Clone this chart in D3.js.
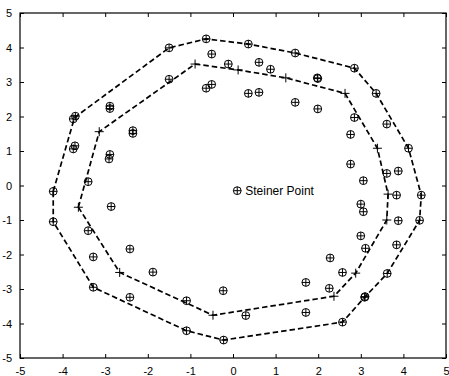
<!DOCTYPE html>
<html><head><meta charset="utf-8">
<script src="https://cdn.jsdelivr.net/npm/d3@7"></script>
<style>body{margin:0;background:#fff}svg{display:block}</style>
</head><body>
<svg id="c" width="449" height="376"></svg>
<script>
const ticksX = [-5,-4,-3,-2,-1,0,1,2,3,4,5];
const ticksY = [-5,-4,-3,-2,-1,0,1,2,3,4,5];

const outerHull = [[-4.22,-0.17],[-3.72,1.97],[-1.50,3.99],[-0.63,4.25],[0.36,4.10],[1.46,3.84],[2.85,3.40],[3.36,2.67],[4.12,1.08],[4.42,-0.28],[4.38,-1.01],[3.62,-2.55],[3.09,-3.24],[2.57,-3.96],[-0.22,-4.48],[-1.09,-4.21],[-3.28,-2.95],[-4.22,-1.05]];
const innerHull = [[-3.63,-0.63],[-3.14,1.56],[-0.89,3.52],[0.12,3.35],[1.24,3.12],[2.63,2.67],[3.39,1.08],[3.64,-0.25],[3.61,-1.00],[2.88,-2.54],[2.37,-3.21],[-0.47,-3.76],[-2.66,-2.52]];
const points = [
 [-4.22,-0.17],[-3.75,1.93],[-3.70,2.01],[-1.50,3.99],[-0.63,4.25],[0.36,4.10],[1.46,3.84],[2.85,3.40],[3.36,2.67],[4.12,1.08],[4.42,-0.28],[4.38,-1.01],[3.62,-2.55],[3.09,-3.24],[3.10,-3.22],[2.57,-3.96],[-0.22,-4.48],[-1.09,-4.21],[-3.28,-2.95],[-4.22,-1.05],
 [-1.50,3.08],[-2.89,2.30],[-2.89,2.23],[-2.35,1.59],[-2.35,1.51],[-3.71,1.15],[-3.75,1.06],[-2.89,0.90],[-2.91,0.77],
 [-0.50,3.81],[-0.11,3.52],[0.61,3.57],[0.88,3.37],[1.98,3.12],[1.99,3.10],[-0.63,2.82],[-0.50,2.93],[0.36,2.67],[0.61,2.70],[1.46,2.41],[1.99,2.22],
 [2.85,1.97],[3.61,1.78],[2.76,1.48],[-3.40,0.11],[-2.86,-0.61],[-3.40,-1.31],[-2.42,-1.84],[-3.28,-2.07],[-1.88,-2.51],
 [2.76,0.62],[3.61,0.35],[3.88,0.42],[3.06,0.14],[3.84,-0.28],[3.00,-0.54],[3.06,-0.76],[3.88,-1.02],[3.00,-1.46],[3.11,-1.82],[3.84,-1.72],
 [2.28,-2.10],[2.57,-2.52],[1.71,-2.81],[2.26,-2.98],[1.71,-3.68],[0.30,-3.77],[-1.09,-3.34],[-0.23,-3.05],[-2.42,-3.24]
];
const legendPoint = [0.10,-0.15];
const legendText = "Steiner Point";

const svg = d3.select("#c");
const x = d3.scaleLinear().domain([-5,5]).range([20,446]);
const y = d3.scaleLinear().domain([-5,5]).range([358,13]);
const font = "'Liberation Sans', Arial, Helvetica, sans-serif";

function styleAxis(g){
  g.select(".domain").remove();
  g.selectAll(".tick line").attr("stroke","#000").attr("stroke-width",1);
  g.selectAll(".tick text").attr("fill","#000").style("font-family",font).style("font-size","11px");
}
svg.append("g").attr("transform",`translate(0,358)`)
  .call(d3.axisBottom(x).tickValues(ticksX).tickSizeInner(-4).tickSizeOuter(0).tickPadding(9).tickFormat(d=>String(d)))
  .call(styleAxis);
svg.append("g").attr("transform",`translate(0,13)`)
  .call(d3.axisTop(x).tickValues(ticksX).tickSizeInner(-4).tickSizeOuter(0).tickFormat(""))
  .call(styleAxis);
svg.append("g").attr("transform",`translate(20,0)`)
  .call(d3.axisLeft(y).tickValues(ticksY).tickSizeInner(-4).tickSizeOuter(0).tickPadding(8).tickFormat(d=>String(d)))
  .call(styleAxis);
svg.append("g").attr("transform",`translate(446,0)`)
  .call(d3.axisRight(y).tickValues(ticksY).tickSizeInner(-4).tickSizeOuter(0).tickFormat(""))
  .call(styleAxis);

svg.append("rect").attr("x",20).attr("y",13).attr("width",426).attr("height",345)
  .attr("fill","none").attr("stroke","#000").attr("stroke-width",1.2);

const line = d3.line().x(d=>x(d[0])).y(d=>y(d[1])).curve(d3.curveLinearClosed);
[outerHull, innerHull].forEach(h=>{
  svg.append("path").attr("d",line(h)).attr("fill","none").attr("stroke","#000")
    .attr("stroke-width",1.7).attr("stroke-dasharray","5.5,3");
});

svg.append("g").selectAll("path").data(innerHull).join("path")
  .attr("d",d=>{const px=x(d[0]),py=y(d[1]);return `M${px-4.5},${py}H${px+4.5}M${px},${py-4.5}V${py+4.5}`;})
  .attr("stroke","#000").attr("stroke-width",1);

function oplus(g,data){
  const s = g.selectAll("g").data(data).join("g").attr("transform",d=>`translate(${x(d[0])},${y(d[1])})`);
  s.append("circle").attr("r",3.9).attr("fill","none").attr("stroke","#000").attr("stroke-width",1);
  s.append("path").attr("d","M-3.9,0H3.9M0,-3.9V3.9").attr("stroke","#000").attr("stroke-width",1);
}
oplus(svg.append("g"), points);
oplus(svg.append("g"), [legendPoint]);
svg.append("text").attr("x",x(legendPoint[0])+8).attr("y",y(legendPoint[1])+4)
  .style("font-family",font).style("font-size","12px").attr("fill","#000").text(legendText);
</script>
</body></html>
